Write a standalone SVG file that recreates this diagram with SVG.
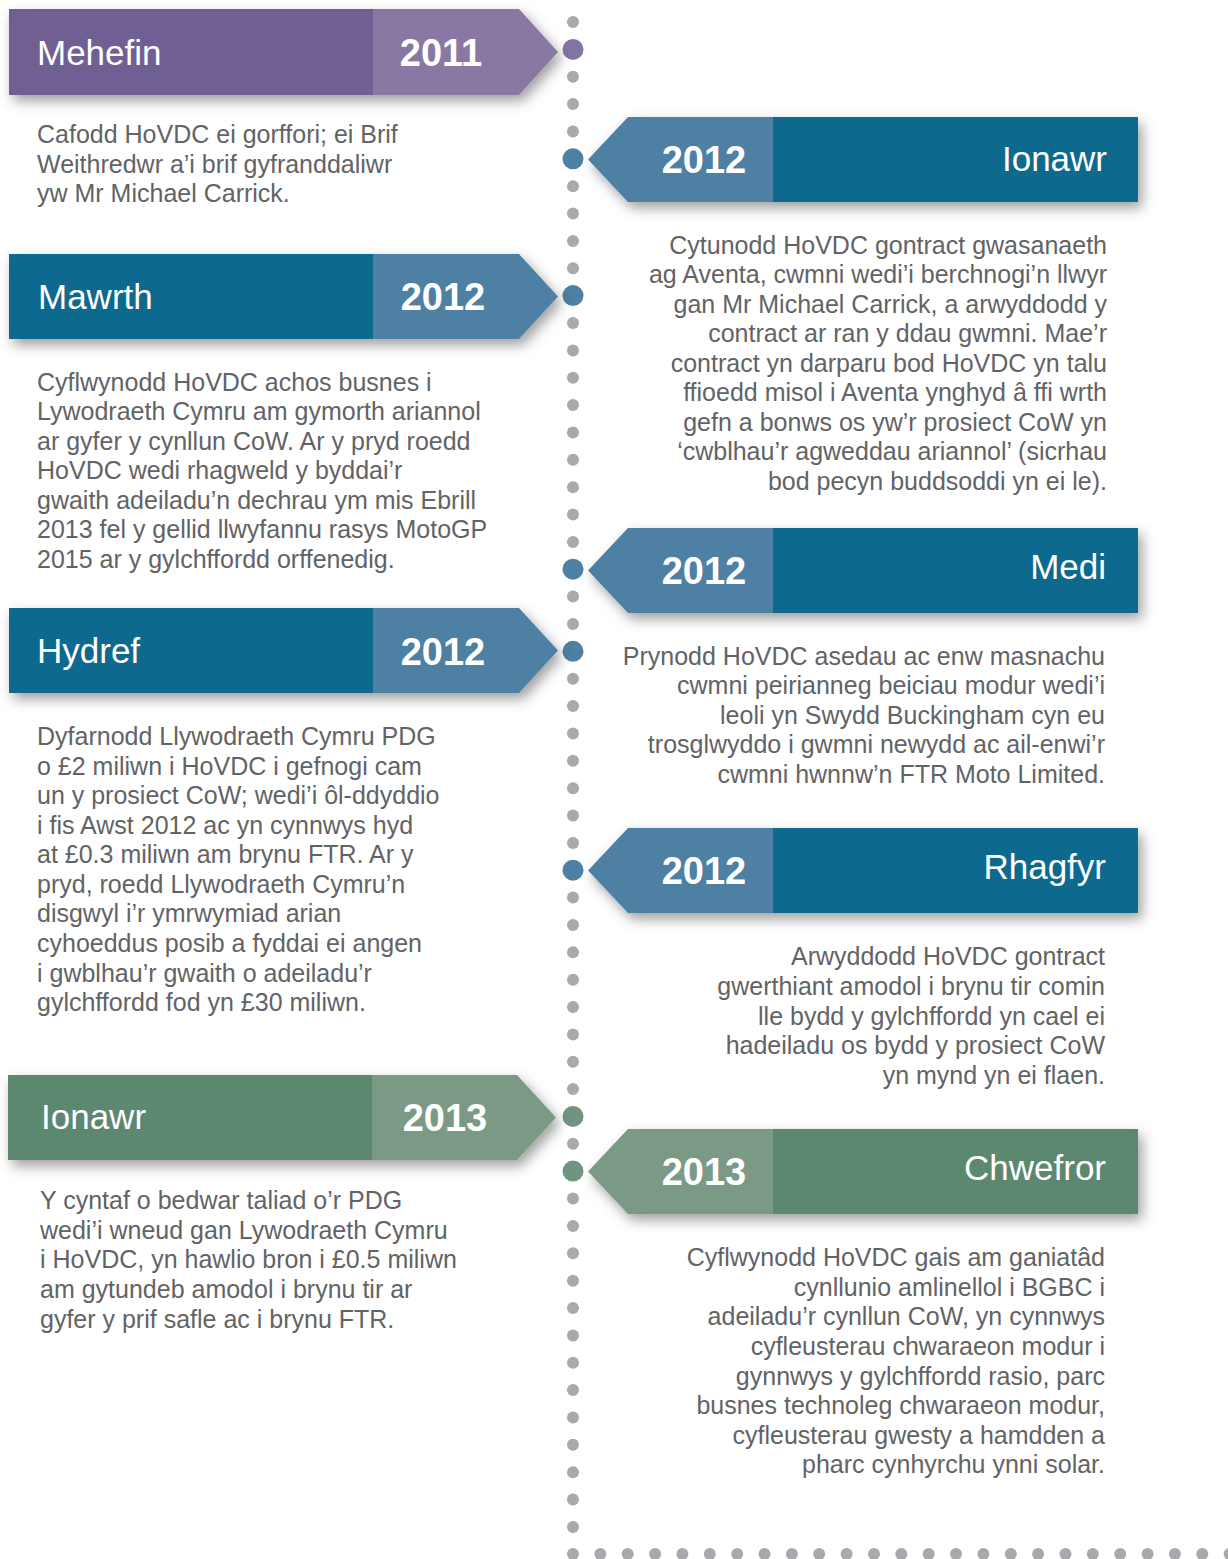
<svg xmlns="http://www.w3.org/2000/svg" width="1228" height="1559" viewBox="0 0 1228 1559">
<defs>
<filter id="sh" x="-10%" y="-30%" width="125%" height="180%">
<feDropShadow dx="4" dy="6" stdDeviation="6.5" flood-color="#000" flood-opacity="0.38"/>
</filter>
<circle id="d" r="6" fill="#a7a9ac"/>
</defs>
<style>
.t{font-family:"Liberation Sans",Arial,sans-serif;font-size:35px;fill:#fff}
.y{font-family:"Liberation Sans",Arial,sans-serif;font-size:38px;font-weight:bold;fill:#fff;text-anchor:middle}
.b{font-family:"Liberation Sans",Arial,sans-serif;font-size:25px;fill:#626365}
.r{text-anchor:end}
.pd{fill:#6f5e93}.pl{fill:#8878a3}
.bd{fill:#0b6a8e}.bl{fill:#4d80a3}
.gd{fill:#5c8870}.gl{fill:#7a9a85}
</style>
<rect width="1228" height="1559" fill="#fff"/>

<g id="connectors">
<g id="timeline-dots">
<use href="#d" x="573" y="22"/><use href="#d" x="573" y="76.7"/><use href="#d" x="573" y="104.1"/><use href="#d" x="573" y="131.4"/>
<use href="#d" x="573" y="186.2"/><use href="#d" x="573" y="213.5"/><use href="#d" x="573" y="240.9"/><use href="#d" x="573" y="268.2"/>
<use href="#d" x="573" y="323"/><use href="#d" x="573" y="350.4"/><use href="#d" x="573" y="377.7"/><use href="#d" x="573" y="405.1"/><use href="#d" x="573" y="432.4"/><use href="#d" x="573" y="459.8"/><use href="#d" x="573" y="487.2"/><use href="#d" x="573" y="514.5"/><use href="#d" x="573" y="541.9"/>
<use href="#d" x="573" y="596.6"/><use href="#d" x="573" y="624"/>
<use href="#d" x="573" y="678.7"/><use href="#d" x="573" y="706.1"/><use href="#d" x="573" y="733.4"/><use href="#d" x="573" y="760.8"/><use href="#d" x="573" y="788.2"/><use href="#d" x="573" y="815.5"/><use href="#d" x="573" y="842.9"/>
<use href="#d" x="573" y="897.6"/><use href="#d" x="573" y="925"/><use href="#d" x="573" y="952.3"/><use href="#d" x="573" y="979.7"/><use href="#d" x="573" y="1007"/><use href="#d" x="573" y="1034.4"/><use href="#d" x="573" y="1061.8"/><use href="#d" x="573" y="1089.1"/>
<use href="#d" x="573" y="1143.8"/>
<use href="#d" x="573" y="1198.6"/><use href="#d" x="573" y="1226"/><use href="#d" x="573" y="1253.3"/><use href="#d" x="573" y="1280.7"/><use href="#d" x="573" y="1308"/><use href="#d" x="573" y="1335.4"/><use href="#d" x="573" y="1362.8"/><use href="#d" x="573" y="1390.1"/><use href="#d" x="573" y="1417.5"/><use href="#d" x="573" y="1444.8"/><use href="#d" x="573" y="1472.2"/><use href="#d" x="573" y="1499.6"/><use href="#d" x="573" y="1526.9"/>
<use href="#d" x="573" y="1554"/><use href="#d" x="600.4" y="1554"/><use href="#d" x="627.7" y="1554"/><use href="#d" x="655.1" y="1554"/><use href="#d" x="682.4" y="1554"/><use href="#d" x="709.8" y="1554"/><use href="#d" x="737.2" y="1554"/><use href="#d" x="764.5" y="1554"/><use href="#d" x="791.9" y="1554"/><use href="#d" x="819.2" y="1554"/><use href="#d" x="846.6" y="1554"/><use href="#d" x="874" y="1554"/><use href="#d" x="901.3" y="1554"/><use href="#d" x="928.7" y="1554"/><use href="#d" x="956" y="1554"/><use href="#d" x="983.4" y="1554"/><use href="#d" x="1010.8" y="1554"/><use href="#d" x="1038.1" y="1554"/><use href="#d" x="1065.5" y="1554"/><use href="#d" x="1092.8" y="1554"/><use href="#d" x="1120.2" y="1554"/><use href="#d" x="1147.6" y="1554"/><use href="#d" x="1174.9" y="1554"/><use href="#d" x="1202.3" y="1554"/><use href="#d" x="1229.6" y="1554"/>
</g>
<g id="milestone-dots">
<circle cx="573" cy="49.4" r="10.5" fill="#8474a2"/>
<circle cx="573" cy="158.8" r="10.5" fill="#4d80a3"/>
<circle cx="573" cy="295.6" r="10.5" fill="#4d80a3"/>
<circle cx="573" cy="569.2" r="10.5" fill="#4d80a3"/>
<circle cx="573" cy="651.3" r="10.5" fill="#4d80a3"/>
<circle cx="573" cy="870.2" r="10.5" fill="#4d80a3"/>
<circle cx="573" cy="1116.4" r="10.5" fill="#6f9580"/>
<circle cx="573" cy="1171.1" r="10.5" fill="#6f9580"/>
</g>
</g>

<g id="n-mehefin-2011">
<g filter="url(#sh)">
<rect class="pd" x="9" y="9" width="364" height="86"/>
<polygon class="pl" points="373,9 519,9 558,52 519,95 373,95"/>
</g>
<text class="t" x="37" y="65">Mehefin</text>
<text class="y" x="441" y="66">2011</text>
<text class="b" x="37"><tspan x="37" y="143">Cafodd HoVDC ei gorffori; ei Brif</tspan><tspan x="37" y="173">Weithredwr a’i brif gyfranddaliwr</tspan><tspan x="37" y="202">yw Mr Michael Carrick.</tspan></text>
</g>

<g id="n-ionawr-2012">
<g filter="url(#sh)">
<polygon class="bl" points="588,159.5 628,117 773,117 773,202 628,202"/>
<rect class="bd" x="773" y="117" width="365" height="85"/>
</g>
<text class="y" x="704" y="173">2012</text>
<text class="t r" x="1107" y="171">Ionawr</text>
<text class="b r"><tspan x="1107" y="254">Cytunodd HoVDC gontract gwasanaeth</tspan><tspan x="1107" y="283">ag Aventa, cwmni wedi’i berchnogi’n llwyr</tspan><tspan x="1107" y="313">gan Mr Michael Carrick, a arwyddodd y</tspan><tspan x="1107" y="342">contract ar ran y ddau gwmni. Mae’r</tspan><tspan x="1107" y="372">contract yn darparu bod HoVDC yn talu</tspan><tspan x="1107" y="401">ffioedd misol i Aventa ynghyd â ffi wrth</tspan><tspan x="1107" y="431">gefn a bonws os yw’r prosiect CoW yn</tspan><tspan x="1107" y="460">‘cwblhau’r agweddau ariannol’ (sicrhau</tspan><tspan x="1107" y="490">bod pecyn buddsoddi yn ei le).</tspan></text>
</g>

<g id="n-mawrth-2012">
<g filter="url(#sh)">
<rect class="bd" x="9" y="254" width="364" height="85"/>
<polygon class="bl" points="373,254 519,254 558,296.5 519,339 373,339"/>
</g>
<text class="t" x="38" y="309">Mawrth</text>
<text class="y" x="443" y="310">2012</text>
<text class="b"><tspan x="37" y="391">Cyflwynodd HoVDC achos busnes i</tspan><tspan x="37" y="420">Lywodraeth Cymru am gymorth ariannol</tspan><tspan x="37" y="450">ar gyfer y cynllun CoW. Ar y pryd roedd</tspan><tspan x="37" y="479">HoVDC wedi rhagweld y byddai’r</tspan><tspan x="37" y="509">gwaith adeiladu’n dechrau ym mis Ebrill</tspan><tspan x="37" y="538">2013 fel y gellid llwyfannu rasys MotoGP</tspan><tspan x="37" y="568">2015 ar y gylchffordd orffenedig.</tspan></text>
</g>

<g id="n-medi-2012">
<g filter="url(#sh)">
<polygon class="bl" points="588,570.5 628,528 773,528 773,613 628,613"/>
<rect class="bd" x="773" y="528" width="365" height="85"/>
</g>
<text class="y" x="704" y="584">2012</text>
<text class="t r" x="1106" y="579">Medi</text>
<text class="b r"><tspan x="1105" y="665">Prynodd HoVDC asedau ac enw masnachu</tspan><tspan x="1105" y="694">cwmni peirianneg beiciau modur wedi’i</tspan><tspan x="1105" y="724">leoli yn Swydd Buckingham cyn eu</tspan><tspan x="1105" y="753">trosglwyddo i gwmni newydd ac ail-enwi’r</tspan><tspan x="1105" y="783">cwmni hwnnw’n FTR Moto Limited.</tspan></text>
</g>

<g id="n-hydref-2012">
<g filter="url(#sh)">
<rect class="bd" x="9" y="608" width="364" height="85"/>
<polygon class="bl" points="373,608 519,608 558,650.5 519,693 373,693"/>
</g>
<text class="t" x="37" y="663">Hydref</text>
<text class="y" x="443" y="665">2012</text>
<text class="b"><tspan x="37" y="745">Dyfarnodd Llywodraeth Cymru PDG</tspan><tspan x="37" y="775">o £2 miliwn i HoVDC i gefnogi cam</tspan><tspan x="37" y="804">un y prosiect CoW; wedi’i ôl-ddyddio</tspan><tspan x="37" y="834">i fis Awst 2012 ac yn cynnwys hyd</tspan><tspan x="37" y="863">at £0.3 miliwn am brynu FTR. Ar y</tspan><tspan x="37" y="893">pryd, roedd Llywodraeth Cymru’n</tspan><tspan x="37" y="922">disgwyl i’r ymrwymiad arian</tspan><tspan x="37" y="952">cyhoeddus posib a fyddai ei angen</tspan><tspan x="37" y="982">i gwblhau’r gwaith o adeiladu’r</tspan><tspan x="37" y="1011">gylchffordd fod yn £30 miliwn.</tspan></text>
</g>

<g id="n-rhagfyr-2012">
<g filter="url(#sh)">
<polygon class="bl" points="588,870.5 628,828 773,828 773,913 628,913"/>
<rect class="bd" x="773" y="828" width="365" height="85"/>
</g>
<text class="y" x="704" y="884">2012</text>
<text class="t r" x="1106" y="879">Rhagfyr</text>
<text class="b r"><tspan x="1105" y="965">Arwyddodd HoVDC gontract</tspan><tspan x="1105" y="995">gwerthiant amodol i brynu tir comin</tspan><tspan x="1105" y="1025">lle bydd y gylchffordd yn cael ei</tspan><tspan x="1105" y="1054">hadeiladu os bydd y prosiect CoW</tspan><tspan x="1105" y="1084">yn mynd yn ei flaen.</tspan></text>
</g>

<g id="n-ionawr-2013">
<g filter="url(#sh)">
<rect class="gd" x="8" y="1075" width="364" height="85"/>
<polygon class="gl" points="372,1075 517,1075 556,1117.5 517,1160 372,1160"/>
</g>
<text class="t" x="41" y="1129">Ionawr</text>
<text class="y" x="445" y="1131">2013</text>
<text class="b"><tspan x="40" y="1209">Y cyntaf o bedwar taliad o’r PDG</tspan><tspan x="40" y="1239">wedi’i wneud gan Lywodraeth Cymru</tspan><tspan x="40" y="1268">i HoVDC, yn hawlio bron i £0.5 miliwn</tspan><tspan x="40" y="1298">am gytundeb amodol i brynu tir ar</tspan><tspan x="40" y="1328">gyfer y prif safle ac i brynu FTR.</tspan></text>
</g>

<g id="n-chwefror-2013">
<g filter="url(#sh)">
<polygon class="gl" points="588,1171.5 628,1129 773,1129 773,1214 628,1214"/>
<rect class="gd" x="773" y="1129" width="365" height="85"/>
</g>
<text class="y" x="704" y="1185">2013</text>
<text class="t r" x="1106" y="1180">Chwefror</text>
<text class="b r"><tspan x="1105" y="1266">Cyflwynodd HoVDC gais am ganiatâd</tspan><tspan x="1105" y="1296">cynllunio amlinellol i BGBC i</tspan><tspan x="1105" y="1325">adeiladu’r cynllun CoW, yn cynnwys</tspan><tspan x="1105" y="1355">cyfleusterau chwaraeon modur i</tspan><tspan x="1105" y="1385">gynnwys y gylchffordd rasio, parc</tspan><tspan x="1105" y="1414">busnes technoleg chwaraeon modur,</tspan><tspan x="1105" y="1444">cyfleusterau gwesty a hamdden a</tspan><tspan x="1105" y="1473">pharc cynhyrchu ynni solar.</tspan></text>
</g>
</svg>
